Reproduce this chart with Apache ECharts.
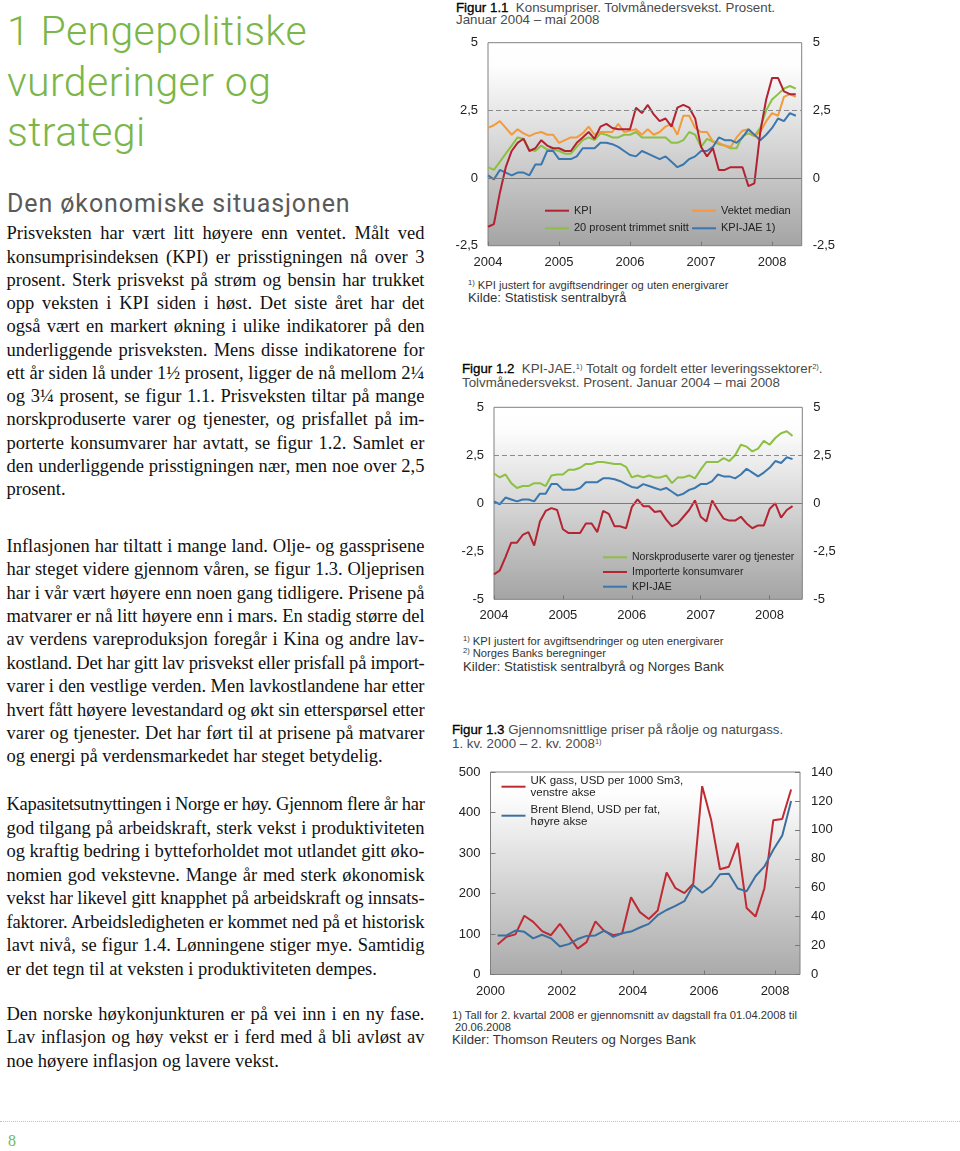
<!DOCTYPE html>
<html><head><meta charset="utf-8">
<script src="https://cdn.jsdelivr.net/npm/echarts@6/dist/echarts.min.js"></script>
<style>
html,body{margin:0;padding:0;background:#fff}
body{width:960px;height:1151px;position:relative;overflow:hidden}
.t{position:absolute;white-space:nowrap;left:0;top:0}
.title{font-family:Roboto,'Liberation Sans',sans-serif;font-weight:300;color:#7ab648;font-size:41px;letter-spacing:0.4px;line-height:51px}
.h2{font-family:Roboto,'Liberation Sans',sans-serif;font-weight:400;color:#5a5a5a;font-size:25px;letter-spacing:0.9px;line-height:28px}
.body{font-family:'Liberation Serif','Times New Roman',serif;font-size:18.5px;line-height:23px;color:#111}
.cap{font-family:'Liberation Sans',Arial,sans-serif;font-size:13.3px;line-height:14px;color:#4a4a4a}
.fig{color:#000;-webkit-text-stroke:0.3px #000}
.fn{font-family:'Liberation Sans',Arial,sans-serif;font-size:11.2px;line-height:12px;color:#333}
.src{font-family:'Liberation Sans',Arial,sans-serif;font-size:13.2px;line-height:14px;color:#333}
sup{font-size:7.5px;vertical-align:4px;line-height:0}
.pg{font-family:'Liberation Serif',serif;font-size:16px;color:#7ab648;line-height:18px}
.chart{position:absolute}
#dots{position:absolute;left:0;top:1121px;width:960px;border-top:1px dotted #b9c9ad}
</style>
</head>
<body>
<div id="dots"></div>
<div id="c1" class="chart" style="left:440px;top:30px;width:420px;height:245px"></div>
<div id="c2" class="chart" style="left:440px;top:395px;width:420px;height:235px"></div>
<div id="c3" class="chart" style="left:440px;top:760px;width:420px;height:245px"></div>
<script>
// ---------- DATA ----------
const years1 = ['2004', '2005', '2006', '2007', '2008'];
const years3 = ['2000', '2002', '2004', '2006', '2008'];

// Figur 1.1 (monthly, Jan 2004 - May 2008)
const kpi = [-1.8,-1.7,-0.55,0.4,1.0,1.3,1.45,1.0,1.1,1.4,1.2,1.1,
  1.1,1.0,1.0,1.3,1.5,1.7,1.45,1.9,2.0,1.85,1.8,1.8,
  1.8,2.6,2.4,2.7,2.35,2.1,2.2,1.9,2.6,2.7,2.6,2.2,
  1.15,0.8,1.1,0.3,0.3,0.4,0.4,0.4,-0.3,-0.2,1.7,2.9,
  3.7,3.7,3.2,3.1,3.1];
const vektetMedian = [1.85,1.95,2.1,1.85,1.6,1.8,1.65,1.55,1.65,1.7,1.6,1.6,
  1.3,1.4,1.5,1.5,1.65,1.9,1.6,1.7,1.7,1.7,2.0,1.7,
  1.75,1.8,1.6,1.8,1.6,1.7,1.9,2.0,1.6,2.3,2.3,1.85,
  1.7,1.7,1.35,1.3,1.2,1.15,1.5,1.75,1.8,1.55,1.7,2.1,
  2.4,2.3,3.0,3.1,3.0];
const trimmet = [0.4,0.3,0.6,0.9,1.2,1.5,1.45,1.05,1.0,1.2,1.05,1.05,
  1.0,0.9,0.9,1.15,1.4,1.5,1.4,1.65,1.6,1.5,1.5,1.6,
  1.6,1.7,1.5,1.5,1.5,1.5,1.5,1.3,1.3,1.4,1.7,1.6,
  1.15,1.45,1.35,1.25,1.2,1.1,1.1,1.55,1.65,1.55,1.85,2.5,
  2.9,3.1,3.3,3.4,3.3];
const kpiJae = [0.1,-0.05,0.3,0.2,0.1,0.2,0.2,0.1,0.5,0.5,1.0,1.0,
  0.7,0.7,0.7,0.8,1.1,1.1,1.1,1.3,1.3,1.25,1.15,1.0,
  0.85,0.8,1.0,0.9,0.8,0.7,0.8,0.6,0.4,0.5,0.7,0.8,
  1.0,1.0,1.15,1.5,1.4,1.4,1.3,1.5,1.8,1.6,1.4,1.6,
  1.85,2.2,2.1,2.4,2.3];

// Figur 1.2
const norskproduserte = [1.55,1.35,1.5,1.05,0.8,0.9,0.9,1.05,1.05,0.9,1.45,1.5,
  1.5,1.75,1.75,1.85,2.05,2.05,2.15,2.15,2.1,2.05,2.05,1.9,
  1.35,1.45,1.35,1.45,1.35,1.35,1.45,1.05,1.35,1.35,1.45,1.3,
  1.75,2.15,2.15,2.15,2.35,2.2,2.5,3.05,2.95,2.7,2.85,3.25,
  3.05,3.4,3.65,3.75,3.5];
const importerte = [-3.7,-3.5,-2.8,-2.05,-2.05,-1.65,-1.5,-2.2,-0.95,-0.4,-0.25,-0.35,
  -1.35,-1.55,-1.55,-1.55,-1.05,-1.05,-1.5,-0.4,-0.55,-1.2,-1.2,-1.3,
  -0.2,0.2,-0.15,-0.15,-0.45,-0.4,-0.85,-1.2,-1.05,-0.7,-0.35,0.15,
  -0.7,-0.95,0.15,-0.35,-0.8,-0.9,-0.9,-0.7,-1.05,-1.3,-1.15,-1.15,
  -0.3,0.0,-0.75,-0.35,-0.15];

// Figur 1.3 (quarterly, 1. kv. 2000 - 2. kv. 2008)
const ukGass = [74,93,99,145,130,107,97,125,95,64,80,131,107,97,101,191,154,137,
  158,252,213,201,224,465,383,260,266,325,164,143,213,381,384,457];
const brent = [27,27,30.4,29.5,25,27.5,25,19.4,21,24.5,26.7,27,30.4,26,28.5,29.7,32.5,35,
  41,44.6,47.5,50.7,61.7,56.5,61,69.3,69.7,59.4,57.6,67.9,74.7,86.2,96,120];

// ---------- TEXT ----------
const titleLines = ['1 Pengepolitiske', 'vurderinger og', 'strategi'];
const para1 = [
 'Prisveksten har vært litt høyere enn ventet. Målt ved',
 'konsumprisindeksen (KPI) er prisstigningen nå over 3',
 'prosent. Sterk prisvekst på strøm og bensin har trukket',
 'opp veksten i KPI siden i høst. Det siste året har det',
 'også vært en markert økning i ulike indikatorer på den',
 'underliggende prisveksten. Mens disse indikatorene for',
 'ett år siden lå under 1½ prosent, ligger de nå mellom 2¼',
 'og 3¼ prosent, se figur 1.1. Prisveksten tiltar på mange',
 'norskproduserte varer og tjenester, og prisfallet på im-',
 'porterte konsumvarer har avtatt, se figur 1.2. Samlet er',
 'den underliggende prisstigningen nær, men noe over 2,5',
 'prosent.'];
const para2 = [
 'Inflasjonen har tiltatt i mange land. Olje- og gassprisene',
 'har steget videre gjennom våren, se figur 1.3. Oljeprisen',
 'har i vår vært høyere enn noen gang tidligere. Prisene på',
 'matvarer er nå litt høyere enn i mars. En stadig større del',
 'av verdens vareproduksjon foregår i Kina og andre lav-',
 'kostland. Det har gitt lav prisvekst eller prisfall på import-',
 'varer i den vestlige verden. Men lavkostlandene har etter',
 'hvert fått høyere levestandard og økt sin etterspørsel etter',
 'varer og tjenester. Det har ført til at prisene på matvarer',
 'og energi på verdensmarkedet har steget betydelig.'];
const para3 = [
 'Kapasitetsutnyttingen i Norge er høy. Gjennom flere år har',
 'god tilgang på arbeidskraft, sterk vekst i produktiviteten',
 'og kraftig bedring i bytteforholdet mot utlandet gitt øko-',
 'nomien god vekstevne. Mange år med sterk økonomisk',
 'vekst har likevel gitt knapphet på arbeidskraft og innsats-',
 'faktorer. Arbeidsledigheten er kommet ned på et historisk',
 'lavt nivå, se figur 1.4. Lønningene stiger mye. Samtidig',
 'er det tegn til at veksten i produktiviteten dempes.'];
const para4 = [
 'Den norske høykonjunkturen er på vei inn i en ny fase.',
 'Lav inflasjon og høy vekst er i ferd med å bli avløst av',
 'noe høyere inflasjon og lavere vekst.'];

const placed = [];
function addText(html, cls, x, baseline, justifyWidth) {
  const d = document.createElement('div');
  d.className = 't ' + cls;
  d.style.left = x + 'px';
  const s = document.createElement('span');
  s.innerHTML = html;
  d.appendChild(s);
  const m = document.createElement('span');
  m.style.cssText = 'display:inline-block;width:0;height:0;vertical-align:baseline';
  d.appendChild(m);
  document.body.appendChild(d);
  placed.push({d, s, m, baseline, justifyWidth});
}
function layoutText() {
  placed.forEach(p => {
    p.s.style.wordSpacing = '0px';
    p.s.style.letterSpacing = '';
    if (p.justifyWidth) {
      let w = p.s.getBoundingClientRect().width;
      const n = (p.s.textContent.match(/ /g) || []).length;
      const len = p.s.textContent.length;
      // keep word gaps natural: if too long, compress letters slightly first
      if (w > p.justifyWidth) {
        p.s.style.letterSpacing = ((p.justifyWidth - w) / len) + 'px';
        w = p.s.getBoundingClientRect().width;
      }
      if (n > 0) p.s.style.wordSpacing = ((p.justifyWidth - w) / n) + 'px';
    }
    p.d.style.top = (p.baseline - p.m.offsetTop) + 'px';
  });
}

titleLines.forEach((l, i) => addText(l, 'title', 7, 45 + i * 50.5));
addText('Den økonomiske situasjonen', 'h2', 7, 211.7);
[[para1, 239.3, 23.25], [para2, 551.7, 23.4], [para3, 810, 23.5], [para4, 1020, 23.3]].forEach(([lines, b0, step]) => {
  lines.forEach((l, i) => addText(l, 'body', 6.5, b0 + i * step, i < lines.length - 1 ? 418 : 0));
});
addText('8', 'pg', 8, 1146);

addText('<span class="fig">Figur 1.1</span>&nbsp; Konsumpriser. Tolvmånedersvekst. Prosent.', 'cap', 456, 11.7);
addText('Januar 2004 – mai 2008', 'cap', 456, 24.2);
addText('<sup>1)</sup> KPI justert for avgiftsendringer og uten energivarer', 'fn', 468, 288.7);
addText('Kilde: Statistisk sentralbyrå', 'src', 468, 301.7);

addText('<span class="fig">Figur 1.2</span>&nbsp; KPI-JAE.<sup>1)</sup> Totalt og fordelt etter leveringssektorer<sup>2)</sup>.', 'cap', 462, 373.3);
addText('Tolvmånedersvekst. Prosent. Januar 2004 – mai 2008', 'cap', 462, 386.7);
addText('<sup>1)</sup> KPI justert for avgiftsendringer og uten energivarer', 'fn', 463, 645);
addText('<sup>2)</sup> Norges Banks beregninger', 'fn', 463, 657.3);
addText('Kilder: Statistisk sentralbyrå og Norges Bank', 'src', 463, 671);

addText('<span class="fig">Figur 1.3</span> Gjennomsnittlige priser på råolje og naturgass.', 'cap', 452, 733.5);
addText('1. kv. 2000 – 2. kv. 2008<sup>1)</sup>', 'cap', 452, 747.5);
addText('1) Tall for 2. kvartal 2008 er gjennomsnitt av dagstall fra 01.04.2008 til', 'fn', 452, 1019);
addText('20.06.2008', 'fn', 455, 1030.5);
addText('Kilder: Thomson Reuters og Norges Bank', 'src', 452, 1043.5);

layoutText();
if (document.fonts && document.fonts.ready) document.fonts.ready.then(layoutText);

// ---------- CHARTS ----------
const FONT = "'Liberation Sans', Arial, sans-serif";
const monthly = arr => arr.map((v, i) => [i, v]);
const quarterly = arr => arr.map((v, i) => [2000.2 + i * 0.25, v]);
const fmt = v => String(v).replace('.', ',');

function bg(bottom) {
  return {type: 'linear', x: 0, y: 0, x2: 0, y2: 1,
    colorStops: [{offset: 0, color: '#ffffff'}, {offset: 0.12, color: '#fdfdfd'}, {offset: 1, color: bottom}]};
}
function grid(l, t, w, h, bottom) {
  return {left: l, top: t, width: w, height: h, show: true, borderColor: '#808080', borderWidth: 1,
    backgroundColor: bg(bottom), containLabel: false, outerBoundsMode: 'none'};
}
function xAxis(min, max, interval, labels, step, base) {
  return {type: 'value', min, max, interval,
    axisLine: {show: false, onZero: false},
    axisTick: {show: true, inside: true, length: 4, lineStyle: {color: '#777'}},
    splitLine: {show: false},
    axisLabel: {color: '#222', fontFamily: FONT, fontSize: 13, margin: 10, showMaxLabel: false,
      formatter: v => { const k = (v - base) / step; return Number.isInteger(k) && labels[k] ? labels[k] : ''; }}};
}
function yAxis(min, max, interval, pos, ticks) {
  return {type: 'value', min, max, interval, position: pos,
    axisLine: {show: false},
    axisTick: {show: ticks, inside: true, length: 5, lineStyle: {color: '#777'}},
    splitLine: {show: false},
    axisLabel: {color: '#222', fontFamily: FONT, fontSize: 13, margin: pos === 'left' ? 10 : 11, formatter: fmt}};
}
function line(name, data, color, extra) {
  return Object.assign({type: 'line', name, data, showSymbol: false, symbol: 'none', silent: true,
    animation: false, color, itemStyle: {color}, lineStyle: {color, width: 2}}, extra || {});
}
const refLines = {markLine: {silent: true, symbol: ['none', 'none'], label: {show: false}, animation: false,
  data: [
    {yAxis: 2.5, lineStyle: {type: [5, 3], color: '#8c8c8c', width: 1.2}},
    {yAxis: 0, lineStyle: {type: 'solid', color: '#7a7a7a', width: 1}}
  ]}};
const legendBase = {orient: 'vertical', padding: 0, icon: 'rect', itemWidth: 24, itemHeight: 2,
  selectedMode: false, textStyle: {fontFamily: FONT, fontSize: 11, color: '#222', lineHeight: 12}};

const c1 = echarts.init(document.getElementById('c1'), null, {renderer: 'canvas'});
c1.setOption({
  animation: false,
  grid: grid(48, 12.7, 313.7, 203, '#a4a4a4'),
  xAxis: xAxis(0, 53, 12, years1, 12, 0),
  yAxis: [yAxis(-2.5, 5, 2.5, 'left', false), yAxis(-2.5, 5, 2.5, 'right', false)],
  legend: [
    Object.assign({}, legendBase, {data: ['KPI', '20 prosent trimmet snitt'], left: 105, top: 174.7, itemGap: 5.6}),
    Object.assign({}, legendBase, {data: ['Vektet median', 'KPI-JAE 1)'], left: 252, top: 174.7, itemGap: 5.6})
  ],
  series: [
    line('20 prosent trimmet snitt', monthly(trimmet), '#8cc043', refLines),
    line('Vektet median', monthly(vektetMedian), '#f29a3c'),
    line('KPI-JAE 1)', monthly(kpiJae), '#3a77ae'),
    line('KPI', monthly(kpi), '#b32230')
  ]
});

const c2 = echarts.init(document.getElementById('c2'), null, {renderer: 'canvas'});
c2.setOption({
  animation: false,
  grid: grid(54, 12.3, 308.3, 192, '#a4a4a4'),
  xAxis: xAxis(0, 53.7, 12, years1, 12, 0),
  yAxis: [yAxis(-5, 5, 2.5, 'left', false), yAxis(-5, 5, 2.5, 'right', false)],
  legend: [Object.assign({}, legendBase, {data: ['Norskproduserte varer og tjenester', 'Importerte konsumvarer', 'KPI-JAE'],
    left: 163, top: 156.3, itemGap: 2.7,
    textStyle: {fontFamily: FONT, fontSize: 10.5, color: '#222', lineHeight: 12}})],
  series: [
    line('Norskproduserte varer og tjenester', monthly(norskproduserte), '#8cc043', refLines),
    line('Importerte konsumvarer', monthly(importerte), '#b52431'),
    line('KPI-JAE', monthly(kpiJae), '#3a77ae')
  ]
});

const gasName = 'UK gass, USD per 1000 Sm3,\nvenstre akse';
const brentName = 'Brent Blend, USD per fat,\nhøyre akse';
const c3 = echarts.init(document.getElementById('c3'), null, {renderer: 'canvas'});
c3.setOption({
  animation: false,
  grid: grid(50.5, 12, 309.5, 202.5, '#aaaaaa'),
  xAxis: xAxis(2000, 2008.7, 2, years3, 2, 2000),
  yAxis: [yAxis(0, 500, 100, 'left', true), yAxis(0, 140, 20, 'right', true)],
  legend: [Object.assign({}, legendBase, {data: [gasName, brentName], left: 61.5, top: 9.3, itemGap: -5.8,
    textStyle: {fontFamily: FONT, fontSize: 11.5, color: '#222', lineHeight: 11.6, padding: [11.6, 0, 0, 0]}})],
  series: [
    line(gasName, quarterly(ukGass), '#bf2a33', {yAxisIndex: 0}),
    line(brentName, quarterly(brent), '#3a6fa0', {yAxisIndex: 1})
  ]
});
</script>
</body></html>
